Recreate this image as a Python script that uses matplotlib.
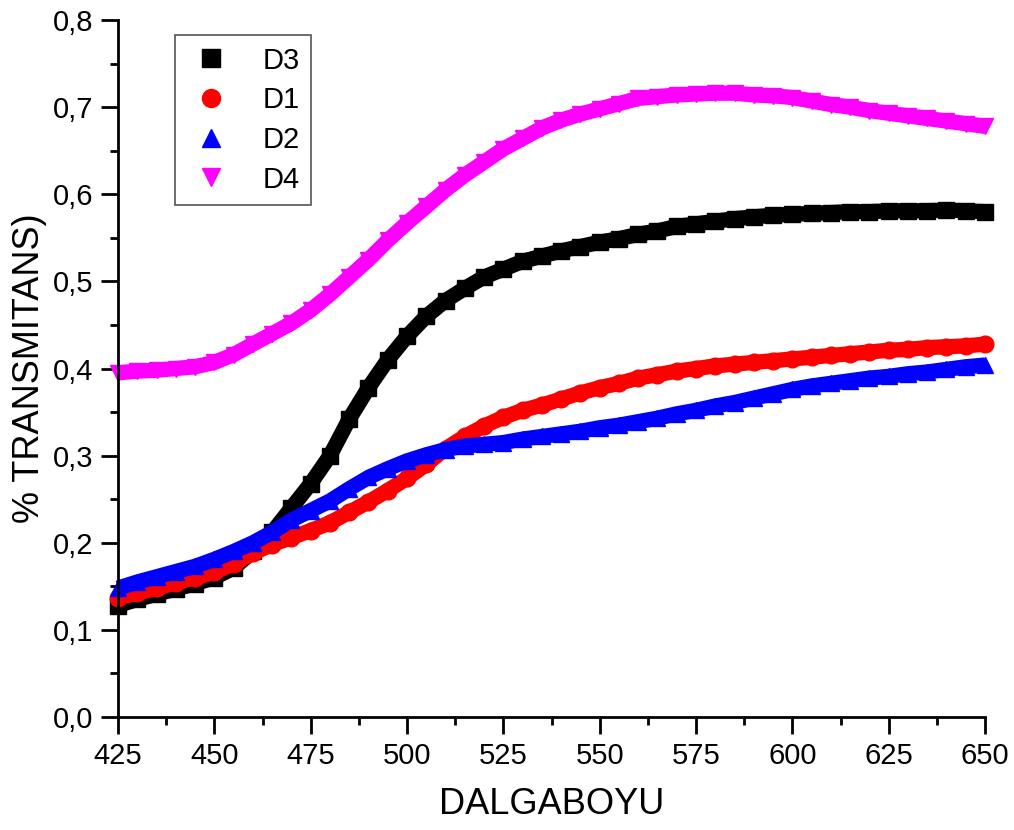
import numpy as np
import matplotlib
matplotlib.use('Agg')
import matplotlib.pyplot as plt
from matplotlib.lines import Line2D
from matplotlib.ticker import MultipleLocator

plt.rcParams['font.family'] = ['Liberation Sans', 'DejaVu Sans']

# wavelength grid (every 5 nm)
wavelength = np.arange(425, 651, 5)

d3 = [0.128, 0.135, 0.141, 0.147, 0.153, 0.160, 0.171, 0.190, 0.212, 0.240,
      0.268, 0.300, 0.342, 0.378, 0.410, 0.437, 0.460, 0.478, 0.492, 0.505,
      0.514, 0.523, 0.529, 0.535, 0.540, 0.545, 0.549, 0.554, 0.558, 0.563,
      0.566, 0.569, 0.572, 0.574, 0.576, 0.577, 0.578, 0.579, 0.580, 0.580,
      0.581, 0.581, 0.581, 0.582, 0.581, 0.580]
d1 = [0.137, 0.142, 0.148, 0.154, 0.160, 0.166, 0.176, 0.188, 0.198, 0.206,
      0.214, 0.223, 0.235, 0.247, 0.260, 0.274, 0.290, 0.308, 0.322, 0.334,
      0.344, 0.352, 0.358, 0.365, 0.372, 0.378, 0.383, 0.389, 0.393, 0.397,
      0.400, 0.403, 0.405, 0.407, 0.409, 0.411, 0.413, 0.415, 0.417, 0.419,
      0.421, 0.422, 0.424, 0.425, 0.426, 0.428]
d2 = [0.148, 0.155, 0.161, 0.167, 0.173, 0.181, 0.190, 0.200, 0.212, 0.226,
      0.237, 0.248, 0.262, 0.275, 0.285, 0.294, 0.301, 0.307, 0.311, 0.313,
      0.315, 0.319, 0.322, 0.325, 0.328, 0.332, 0.335, 0.339, 0.343, 0.348,
      0.352, 0.357, 0.361, 0.366, 0.371, 0.376, 0.380, 0.383, 0.386, 0.389,
      0.391, 0.394, 0.396, 0.399, 0.402, 0.404]
d4 = [0.395, 0.397, 0.398, 0.400, 0.402, 0.407, 0.416, 0.428, 0.440, 0.452,
      0.467, 0.485, 0.505, 0.525, 0.547, 0.567, 0.586, 0.605, 0.622, 0.637,
      0.652, 0.664, 0.676, 0.685, 0.692, 0.698, 0.704, 0.710, 0.712, 0.714,
      0.715, 0.716, 0.716, 0.714, 0.713, 0.711, 0.707, 0.703, 0.700, 0.696,
      0.693, 0.690, 0.687, 0.684, 0.681, 0.678]

x_ticks = [425, 450, 475, 500, 525, 550, 575, 600, 625, 650]
y_ticks = [0.0, 0.1, 0.2, 0.3, 0.4, 0.5, 0.6, 0.7, 0.8]
y_tick_labels = ['0,0', '0,1', '0,2', '0,3', '0,4', '0,5', '0,6', '0,7', '0,8']

series = [
    ('D3', d3, 'black', 's'),
    ('D1', d1, 'red', 'o'),
    ('D2', d2, 'blue', '^'),
    ('D4', d4, 'magenta', 'v'),
]

fig = plt.figure(figsize=(10.14, 8.30), dpi=100)
ax = fig.add_axes([0.1164, 0.1361, 0.855, 0.8398])

handles = []
for name, values, color, marker in series:
    ax.plot(wavelength, values, color=color, lw=11, solid_capstyle='butt',
            marker=marker, ms=12, mec=color, mfc=color, clip_on=False)
    handles.append(Line2D([], [], ls='None', marker=marker, color=color,
                          ms=13, label=name))

ax.set_xlim(425, 650)
ax.set_ylim(0, 0.8)
ax.set_xticks(x_ticks)
ax.set_yticks(y_ticks)
ax.set_yticklabels(y_tick_labels)
ax.xaxis.set_minor_locator(MultipleLocator(12.5))
ax.yaxis.set_minor_locator(MultipleLocator(0.05))

for side in ['top', 'right']:
    ax.spines[side].set_visible(False)
for side in ['left', 'bottom']:
    ax.spines[side].set_linewidth(2)

ax.tick_params(which='major', direction='out', length=12, width=2,
               labelsize=21, pad=6)
ax.tick_params(which='minor', direction='out', length=6, width=2)

ax.set_xlabel('DALGABOYU', fontsize=26, labelpad=12)
ax.set_ylabel('% TRANSMITANS)', fontsize=26, labelpad=4)

leg = ax.legend(handles=handles, loc='upper left',
                bbox_to_anchor=(175 / 1014, 1 - 35 / 830),
                bbox_transform=fig.transFigure, borderaxespad=0,
                fontsize=21, frameon=True,
                fancybox=False, edgecolor='#555555', framealpha=1,
                handletextpad=0.9, labelspacing=0.4, borderpad=0.4,
                handlelength=1.7)
leg.get_frame().set_linewidth(1.2)

fig.savefig('out.png', dpi=100)
